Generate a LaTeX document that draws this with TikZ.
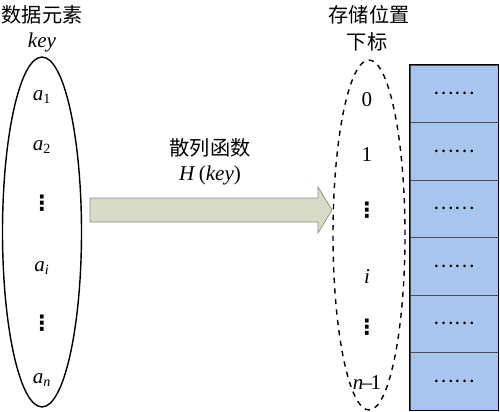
\documentclass[tikz,border=0pt]{standalone}
\usepackage{fontspec}
\setmainfont{Liberation Serif}
\newfontfamily\cjk{Noto Sans CJK SC}
\newfontfamily\sym{DejaVu Sans}
\usetikzlibrary{shapes.geometric}
\definecolor{cellblue}{RGB}{168,197,238}
\definecolor{arrowfill}{RGB}{216,220,198}
\definecolor{arrowdraw}{RGB}{140,140,130}
\newcommand{\vdotsym}{{\sym\bfseries ⋮}}
\begin{document}
\begin{tikzpicture}[x=0.02cm,y=-0.02cm,font=\fontsize{12}{14}\selectfont,
setbox/.style={draw,thick,ellipse,minimum width=1.58cm,minimum height=7cm,inner sep=0pt},
lbl/.style={inner sep=1pt},
title/.style={font=\cjk\fontsize{11.5}{14}\selectfont,inner sep=0pt},
cellbox/.style={draw=black!70,fill=cellblue,minimum width=1.76cm,minimum height=1.15cm,inner sep=0pt,font=\cjk\fontsize{11}{13}\selectfont},
hasharrow/.style={draw=arrowdraw,fill=arrowfill}]
\useasboundingbox (0,0) rectangle (500,412);
% data elements
\node[title](t1) at (42,15){数据元素};
\node[lbl](k) at (42,42){\textit{key}};
\node[setbox](keys) at (42,232){};
\node[lbl](a1) at (42,97){\textit{a}\textsubscript{1}};
\node[lbl](a2) at (42,147){\textit{a}\textsubscript{2}};
\node[lbl](d1) at (42,203){\vdotsym};
\node[lbl](ai) at (42,268){\textit{a}\textsubscript{\textit{i}}};
\node[lbl](d2) at (42,323){\vdotsym};
\node[lbl](an) at (42,380){\textit{a}\textsubscript{\textit{n}}};
% hash function
\draw[hasharrow] (90,198) -- (318,198) -- (318,187) -- (332,210) -- (318,233) -- (318,222) -- (90,222) -- cycle;
\node[title](t2) at (210,148){散列函数};
\node[lbl](h) at (210,175){\textit{H}\,(\textit{key})};
% indices
\node[title](t3) at (369,15){存储位置};
\node[title](t4) at (367,42){下标};
\node[setbox,dashed,minimum width=1.44cm](idx) at (369,235){};
\node[lbl](i0) at (367,100){0};
\node[lbl](i1) at (367,155){1};
\node[lbl](d3) at (367,210){\vdotsym};
\node[lbl](ii) at (367,277){\textit{i}};
\node[lbl](d4) at (367,327){\vdotsym};
\node[lbl](in) at (367,383){\textit{n}\kern-1pt--\kern-1pt1};
% storage cells
\foreach \k in {1,...,6}
  \node[cellbox](c\k) at (454,{65+57.5*(\k-0.5)}){……};
\draw[thick] (c1.north west) rectangle (c6.south east);
\end{tikzpicture}
\end{document}
